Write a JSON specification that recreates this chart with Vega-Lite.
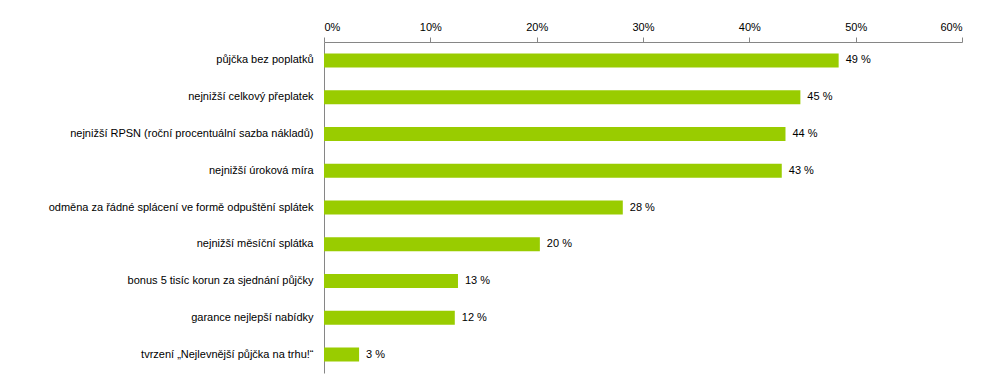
{
  "$schema": "https://vega.github.io/schema/vega-lite/v6.json",
  "autosize": {"type": "none"},
  "padding": {"left": 324, "top": 42, "right": 33, "bottom": 8},
  "width": 638,
  "height": 331,
  "background": "white",
  "config": {"view": {"stroke": null}, "font": "Liberation Sans"},
  "data": {
    "values": [
      {"kat": "půjčka bez poplatků", "hodnota": 48.4, "popis": "49 %"},
      {"kat": "nejnižší celkový přeplatek", "hodnota": 44.8, "popis": "45 %"},
      {"kat": "nejnižší RPSN (roční procentuální sazba nákladů)", "hodnota": 43.4, "popis": "44 %"},
      {"kat": "nejnižší úroková míra", "hodnota": 43.05, "popis": "43 %"},
      {"kat": "odměna za řádné splácení ve formě odpuštění splátek", "hodnota": 28.1, "popis": "28 %"},
      {"kat": "nejnižší měsíční splátka", "hodnota": 20.3, "popis": "20 %"},
      {"kat": "bonus 5 tisíc korun za sjednání půjčky", "hodnota": 12.6, "popis": "13 %"},
      {"kat": "garance nejlepší nabídky", "hodnota": 12.3, "popis": "12 %"},
      {"kat": "tvrzení „Nejlevnější půjčka na trhu!“", "hodnota": 3.3, "popis": "3 %"}
    ]
  },
  "encoding": {
    "y": {
      "field": "kat", "type": "nominal", "sort": null,
      "scale": {"paddingInner": 0.62, "paddingOuter": 0.31},
      "axis": {
        "title": null, "ticks": false, "domainColor": "#868686", "domainWidth": 1,
        "labelFontSize": 11, "labelColor": "#000000", "labelPadding": 11, "labelLimit": 320
      }
    }
  },
  "layer": [
    {
      "mark": {"type": "bar", "color": "#99cc00"},
      "encoding": {
        "x": {
          "field": "hodnota", "type": "quantitative",
          "scale": {"domain": [0, 60], "nice": false},
          "axis": {
            "orient": "top", "title": null, "grid": false, "values": [0, 10, 20, 30, 40, 50, 60],
            "labelExpr": "datum.value + '%'", "domainColor": "#868686", "tickColor": "#868686",
            "tickSize": 5, "labelPadding": 5, "labelFontSize": 11, "labelColor": "#000000"
          }
        }
      }
    },
    {
      "mark": {"type": "text", "align": "left", "dx": 7, "fontSize": 11, "color": "#000000"},
      "encoding": {
        "x": {"field": "hodnota", "type": "quantitative"},
        "text": {"field": "popis"}
      }
    }
  ]
}
